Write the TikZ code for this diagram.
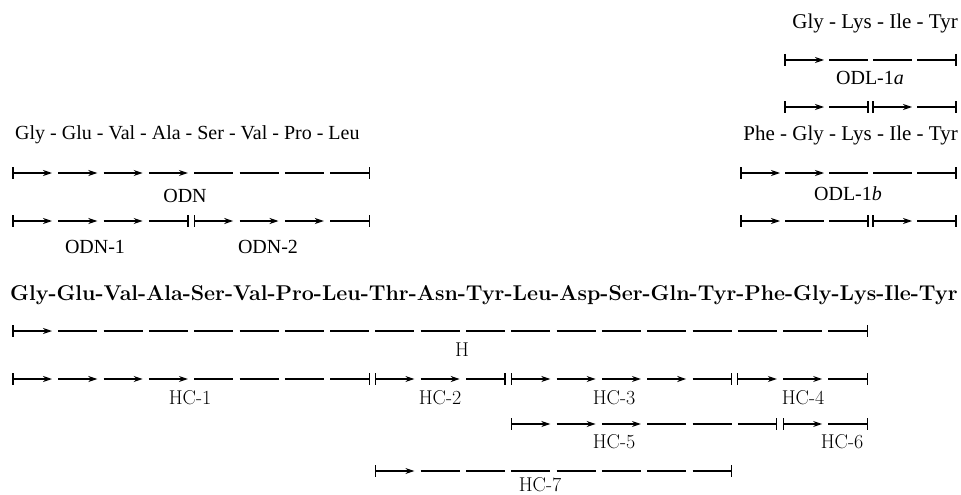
\documentclass[tikz,border=0pt]{standalone}
\usepackage{fontspec}
\newfontfamily\oldface{Liberation Serif}
\usepackage{tikz}
\usetikzlibrary{arrows.meta}

\def\seglen{39}
% one peptide bar: grid origin, pitch, row y, first residue, last residue, number of arrows
\newcommand{\pepbar}[6]{%
  \foreach \r in {#4,...,#5}{
    \pgfmathsetmacro\xa{#1+#2*\r}
    \pgfmathtruncatemacro\k{\r-#4}
    \ifnum\k<#6
      \draw[fwd] (\xa,#3) -- ++(\seglen,0);
    \else
      \draw[seg] (\xa,#3) -- ++(\seglen,0);
    \fi
  }
  \draw[seg] ({#1+#2*#4},#3-6) -- ++(0,12);
  \draw[seg] ({#1+#2*#5+\seglen},#3-6) -- ++(0,12);
}

\begin{document}
\begin{tikzpicture}[x=1pt, y=-1pt,
  seg/.style={line width=1.2pt},
  fwd/.style={seg, -{Stealth[length=9pt, width=6pt]}},
  pep/.style={inner sep=0pt, font=\oldface\fontsize{21}{24}\selectfont},
  mainseq/.style={inner sep=0pt, font=\bfseries\fontsize{21.4}{24}\selectfont},
  lbl/.style={inner sep=0pt, font=\fontsize{20}{24}\selectfont},
  oldlbl/.style={inner sep=0pt, font=\oldface\fontsize{20}{24}\selectfont}
]
\useasboundingbox (0,0) rectangle (961,495);

% partial sequences
\node[pep, anchor=east] (tetra) at (958,23)  {Gly - Lys - Ile - Tyr};
\node[pep, anchor=east] (penta) at (958,135) {Phe - Gly - Lys - Ile - Tyr};
\node[pep, anchor=west, font=\oldface\fontsize{20}{24}\selectfont] (octa) at (15,135)
  {Gly - Glu - Val - Ala - Ser - Val - Pro - Leu};

% ODL fragments
\pepbar{741}{44}{60}{1}{4}{1}
\node[oldlbl] (odla) at (870,78) {ODL-1\textit{a}};
\pepbar{741}{44}{107}{1}{2}{1}
\pepbar{741}{44}{107}{3}{4}{1}
\pepbar{741}{44}{173}{0}{4}{2}
\node[oldlbl] (odlb) at (848,194) {ODL-1\textit{b}};
\pepbar{741}{44}{221}{0}{2}{1}
\pepbar{741}{44}{221}{3}{4}{1}

% ODN fragments
\pepbar{13}{45.3}{173}{0}{7}{4}
\node[oldlbl] (odn) at (185,196) {ODN};
\pepbar{13}{45.3}{221}{0}{3}{3}
\pepbar{13}{45.3}{221}{4}{7}{3}
\node[oldlbl] (odn1) at (95,247) {ODN-1};
\node[oldlbl] (odn2) at (268,247) {ODN-2};

% whole chain
\node[mainseq, anchor=west] (chain) at (10,295)
  {Gly-Glu-Val-Ala-Ser-Val-Pro-Leu-Thr-Asn-Tyr-Leu-Asp-Ser-Gln-Tyr-Phe-Gly-Lys-Ile-Tyr};

\pepbar{13}{45.3}{331}{0}{18}{1}
\node[lbl] (h) at (462,350) {H};

\pepbar{13}{45.3}{379}{0}{7}{4}
\pepbar{13}{45.3}{379}{8}{10}{2}
\pepbar{13}{45.3}{379}{11}{15}{4}
\pepbar{13}{45.3}{379}{16}{18}{2}
\node[lbl] (hc1) at (190,398) {HC-1};
\node[lbl] (hc2) at (440,398) {HC-2};
\node[lbl] (hc3) at (614,398) {HC-3};
\node[lbl] (hc4) at (803,398) {HC-4};

\pepbar{13}{45.3}{424}{11}{16}{3}
\pepbar{13}{45.3}{424}{17}{18}{1}
\node[lbl] (hc5) at (614,442) {HC-5};
\node[lbl] (hc6) at (842,442) {HC-6};

\pepbar{13}{45.3}{471}{8}{15}{1}
\node[lbl] (hc7) at (540,485) {HC-7};
\end{tikzpicture}
\end{document}
